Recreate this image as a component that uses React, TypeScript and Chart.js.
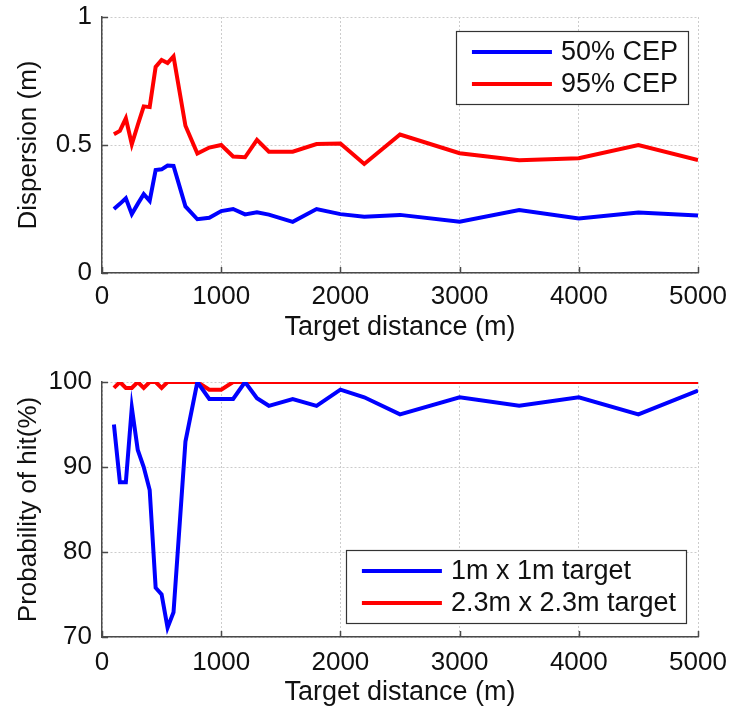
import React, { useEffect, useRef } from "react";
import { Chart, registerables } from "chart.js";

Chart.register(...registerables);

// ---- data ----
const distances = [100, 150, 200, 250, 300, 350, 400, 450, 500, 550, 600, 700, 800, 900, 1000, 1100, 1200, 1300, 1400, 1600, 1800, 2000, 2200, 2500, 3000, 3500, 4000, 4500, 5000];
const cep50 = [0.25, 0.27, 0.292, 0.23, 0.27, 0.308, 0.282, 0.402, 0.405, 0.42, 0.418, 0.26, 0.21, 0.216, 0.242, 0.25, 0.229, 0.237, 0.228, 0.2, 0.25, 0.23, 0.22, 0.227, 0.2, 0.246, 0.213, 0.236, 0.225];
const cep95 = [0.542, 0.555, 0.604, 0.503, 0.578, 0.651, 0.648, 0.805, 0.832, 0.82, 0.846, 0.575, 0.467, 0.49, 0.5, 0.455, 0.452, 0.52, 0.474, 0.474, 0.504, 0.506, 0.426, 0.541, 0.468, 0.44, 0.448, 0.5, 0.441];
const hit1m = [95, 88.2, 88.2, 97, 92, 90, 87.3, 75.8, 75, 71.1, 72.9, 93, 100, 98, 98, 98, 100, 98.1, 97.2, 98, 97.2, 99.1, 98.2, 96.2, 98.2, 97.2, 98.2, 96.2, 99];
const hit23m = [99.3, 100, 99.3, 99.3, 100, 99.3, 100, 100, 99.3, 100, 100, 100, 100, 99.1, 99.1, 100, 100, 100, 100, 100, 100, 100, 100, 100, 100, 100, 100, 100, 100];

const seriesLabelsTop = ["50% CEP", "95% CEP"];
const seriesLabelsBottom = ["1m x 1m target", "2.3m x 2.3m target"];
const xTickValues = [0, 1000, 2000, 3000, 4000, 5000];
const dispersionTicks = [0, 0.5, 1];
const hitTicks = [70, 80, 90, 100];
const xTitle = "Target distance (m)";
const yTitleTop = "Dispersion (m)";
const yTitleBottom = "Probability of hit(%)";

// ---- styles ----
const FONT = "'Liberation Sans', Arial, Helvetica, sans-serif";
const FS = 26;
const AXIS = "#4a4a4a";
const GRID = "#cccccc";
const BLUE = "#0000ff";
const RED = "#ff0000";

const matlabPlugin = {
  id: "matlabDecor",
  afterDraw(chart: any, _args: any, opts: any) {
    const { ctx, chartArea: a, scales } = chart;
    ctx.save();
    // inward tick marks
    ctx.strokeStyle = AXIS;
    ctx.lineWidth = 1.5;
    ctx.beginPath();
    scales.x.ticks.forEach((t: any) => {
      const px = Math.round(scales.x.getPixelForValue(t.value)) + 0.5;
      ctx.moveTo(px, a.bottom);
      ctx.lineTo(px, a.bottom - 6);
    });
    scales.y.ticks.forEach((t: any) => {
      const py = Math.round(scales.y.getPixelForValue(t.value)) + 0.5;
      ctx.moveTo(a.left, py);
      ctx.lineTo(a.left + 6, py);
    });
    ctx.stroke();

    // legend box inside plot
    const ds = chart.data.datasets;
    ctx.font = `${opts.fontSize}px ${FONT}`;
    const textW = Math.max(...ds.map((d: any) => ctx.measureText(d.label).width));
    const padL = 16, lineLen = 80, gap = 9, padR = 10, rowH = 32, firstRow = 21;
    const w = padL + lineLen + gap + textW + padR;
    const h = firstRow * 2 + rowH * (ds.length - 1) - 1;
    const x0 = a.right - opts.dx - w;
    const y0 = opts.corner === "top" ? a.top + opts.dy : a.bottom - opts.dy - h;
    ctx.fillStyle = "#ffffff";
    ctx.fillRect(x0, y0, w, h);
    ctx.strokeStyle = "#333333";
    ctx.lineWidth = 1.2;
    ctx.strokeRect(Math.round(x0) + 0.5, Math.round(y0) + 0.5, Math.round(w), Math.round(h));
    ds.forEach((d: any, i: number) => {
      const cy = y0 + firstRow + i * rowH;
      ctx.strokeStyle = d.borderColor;
      ctx.lineWidth = 4;
      ctx.beginPath();
      ctx.moveTo(x0 + padL, cy);
      ctx.lineTo(x0 + padL + lineLen, cy);
      ctx.stroke();
      ctx.fillStyle = "#111111";
      ctx.textBaseline = "middle";
      ctx.textAlign = "left";
      ctx.fillText(d.label, x0 + padL + lineLen + gap, cy + 1);
    });
    ctx.restore();
  },
};

function makeConfig(p: {
  labels: string[];
  series: number[][];
  colors: string[];
  yTicks: number[];
  yTitle: string;
  xHeight: number;
  xLabelPad: number;
  xTitlePad: number;
  legendCorner: string;
  legendDx: number;
  legendDy: number;
  clip: any;
}) {
  const tickFont = { family: FONT, size: FS, lineHeight: 1 };
  return {
    type: "line",
    data: {
      datasets: p.series.map((vals, i) => ({
        label: p.labels[i],
        data: distances.map((d, j) => ({ x: d, y: vals[j] })),
        borderColor: p.colors[i],
        backgroundColor: p.colors[i],
        borderWidth: 4,
        pointRadius: 0,
        tension: 0,
        fill: false,
        clip: p.clip,
      })),
    },
    options: {
      animation: false,
      responsive: false,
      devicePixelRatio: 1,
      layout: { padding: { left: 0, right: 35, top: 17, bottom: 0 } },
      plugins: {
        legend: { display: false },
        tooltip: { enabled: false },
        matlabDecor: { corner: p.legendCorner, dx: p.legendDx, dy: p.legendDy, fontSize: 27 },
      },
      scales: {
        x: {
          type: "linear",
          min: xTickValues[0],
          max: xTickValues[xTickValues.length - 1],
          afterBuildTicks: (s: any) => {
            s.ticks = xTickValues.map((v) => ({ value: v }));
          },
          afterFit: (s: any) => {
            s.height = p.xHeight;
            s.paddingLeft = 0;
            s.paddingRight = 0;
          },
          ticks: {
            font: tickFont,
            color: "#111111",
            padding: p.xLabelPad,
            maxRotation: 0,
            autoSkip: false,
            callback: (v: any) => String(v),
          },
          grid: { color: GRID, lineWidth: 1, drawTicks: false },
          border: { display: true, color: AXIS, width: 1.5, dash: [2, 2] },
          title: {
            display: true,
            text: xTitle,
            font: { family: FONT, size: 27, lineHeight: 1 },
            color: "#111111",
            padding: { top: 0, bottom: p.xTitlePad },
          },
        },
        y: {
          type: "linear",
          min: p.yTicks[0],
          max: p.yTicks[p.yTicks.length - 1],
          afterBuildTicks: (s: any) => {
            s.ticks = p.yTicks.map((v) => ({ value: v }));
          },
          afterFit: (s: any) => {
            s.width = 102;
            s.paddingTop = 0;
            s.paddingBottom = 0;
          },
          ticks: {
            font: tickFont,
            color: "#111111",
            padding: 10,
            autoSkip: false,
            callback: (v: any) => String(v),
          },
          grid: { color: GRID, lineWidth: 1, drawTicks: false },
          border: { display: true, color: AXIS, width: 1.5, dash: [2, 2] },
          title: {
            display: true,
            text: p.yTitle,
            font: { family: FONT, size: FS, lineHeight: 1 },
            color: "#111111",
            padding: { top: 16, bottom: 0 },
          },
        },
      },
    },
    plugins: [matlabPlugin],
  } as any;
}

export default function App() {
  const topRef = useRef<HTMLCanvasElement>(null);
  const botRef = useRef<HTMLCanvasElement>(null);

  useEffect(() => {
    const c1 = new Chart(
      topRef.current as HTMLCanvasElement,
      makeConfig({
        labels: seriesLabelsTop,
        series: [cep50, cep95],
        colors: [BLUE, RED],
        yTicks: dispersionTicks,
        yTitle: yTitleTop,
        xHeight: 83,
        xLabelPad: 11,
        xTitlePad: 15,
        legendCorner: "top",
        legendDx: 10,
        legendDy: 14,
        clip: undefined,
      })
    );
    const c2 = new Chart(
      botRef.current as HTMLCanvasElement,
      makeConfig({
        labels: seriesLabelsBottom,
        series: [hit1m, hit23m],
        colors: [BLUE, RED],
        yTicks: hitTicks,
        yTitle: yTitleBottom,
        xHeight: 76,
        xLabelPad: 13,
        xTitlePad: 7,
        legendCorner: "bottom",
        legendDx: 12,
        legendDy: 14,
        clip: 0,
      })
    );
    return () => {
      c1.destroy();
      c2.destroy();
    };
  }, []);

  return (
    <div style={{ position: "absolute", left: 0, top: 0, width: 733, height: 713, background: "#ffffff" }}>
      <canvas ref={topRef} width={733} height={356} style={{ position: "absolute", left: 0, top: 0 }} />
      <canvas ref={botRef} width={733} height={348} style={{ position: "absolute", left: 0, top: 365 }} />
    </div>
  );
}
